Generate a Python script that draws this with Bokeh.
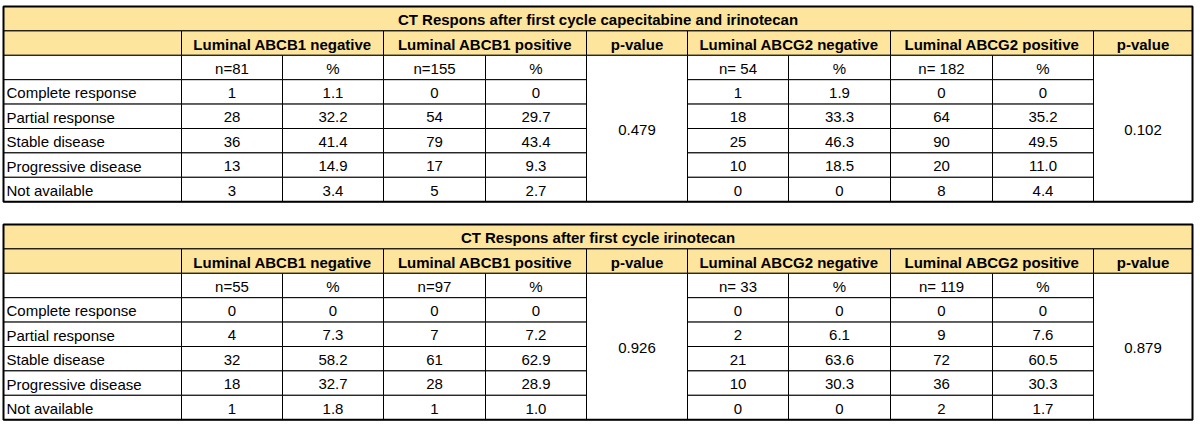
from bokeh.plotting import figure
from bokeh.models import Range1d, ColumnDataSource
from bokeh.core.properties import value
from bokeh.embed import file_html
from bokeh.resources import INLINE

# ---------------- data ----------------
response_labels = ["Complete response", "Partial response", "Stable disease",
                   "Progressive disease", "Not available"]
group_headers = ["Luminal ABCB1 negative", "Luminal ABCB1 positive", "p-value",
                 "Luminal ABCG2 negative", "Luminal ABCG2 positive", "p-value"]

t1_title = "CT Respons after first cycle capecitabine and irinotecan"
t1_n_labels = ["n=81", "n=155", "n= 54", "n= 182"]
t1_b1neg_n = [1, 28, 36, 13, 3]
t1_b1neg_pct = [1.1, 32.2, 41.4, 14.9, 3.4]
t1_b1pos_n = [0, 54, 79, 17, 5]
t1_b1pos_pct = [0, 29.7, 43.4, 9.3, 2.7]
t1_b1_p = "0.479"
t1_g2neg_n = [1, 18, 25, 10, 0]
t1_g2neg_pct = [1.9, 33.3, 46.3, 18.5, 0]
t1_g2pos_n = [0, 64, 90, 20, 8]
t1_g2pos_pct = [0, 35.2, 49.5, 11.0, 4.4]
t1_g2_p = "0.102"

t2_title = "CT Respons after first cycle irinotecan"
t2_n_labels = ["n=55", "n=97", "n= 33", "n= 119"]
t2_b1neg_n = [0, 4, 32, 18, 1]
t2_b1neg_pct = [0, 7.3, 58.2, 32.7, 1.8]
t2_b1pos_n = [0, 7, 61, 28, 1]
t2_b1pos_pct = [0, 7.2, 62.9, 28.9, 1.0]
t2_b1_p = "0.926"
t2_g2neg_n = [0, 2, 21, 10, 0]
t2_g2neg_pct = [0, 6.1, 63.6, 30.3, 0]
t2_g2pos_n = [0, 9, 72, 36, 2]
t2_g2pos_pct = [0, 7.6, 60.5, 30.3, 1.7]
t2_g2_p = "0.879"

# ---------------- layout ----------------
EDGES = [3, 181, 282, 383, 485, 586, 687, 788, 890, 992, 1093, 1192]
ROW_H = 24.4
YELLOW = "#FDE59D"
FONT = value("Liberation Sans")
FSIZE = value("15px")

def fmt_pct(v):
    return "0" if v == 0 else f"{v:.1f}"

cells = dict(left=[], right=[], top=[], bottom=[], fill=[])
norm_txt = dict(x=[], y=[], t=[])
left_txt = dict(x=[], y=[], t=[])
bold_txt = dict(x=[], y=[], t=[])
borders = dict(left=[], right=[], top=[], bottom=[])

def add_cell(x0, x1, y0, y1, fill):
    cells["left"].append(x0); cells["right"].append(x1)
    cells["top"].append(y0); cells["bottom"].append(y1)
    cells["fill"].append(fill)

def add_txt(d, x, y, t):
    d["x"].append(x); d["y"].append(y); d["t"].append(t)

def make_table(top, title, n_labels, counts, pcts, pvals):
    ys = [top + i * ROW_H for i in range(9)]
    E = EDGES
    # title row
    add_cell(E[0], E[-1], ys[0], ys[1], YELLOW)
    add_txt(bold_txt, (E[0] + E[-1]) / 2, (ys[0] + ys[1]) / 2 + 1, title)
    # header row
    add_cell(E[0], E[1], ys[1], ys[2], YELLOW)
    spans = [(1, 3), (3, 5), (5, 6), (6, 8), (8, 10), (10, 11)]
    for (a, b), h in zip(spans, group_headers):
        add_cell(E[a], E[b], ys[1], ys[2], YELLOW)
        add_txt(bold_txt, (E[a] + E[b]) / 2, (ys[1] + ys[2]) / 2 + 1, h)
    # label column
    for r in range(6):
        add_cell(E[0], E[1], ys[2 + r], ys[3 + r], "white")
    for r, lab in enumerate(response_labels):
        add_txt(left_txt, E[0] + 3, (ys[3 + r] + ys[4 + r]) / 2 + 1, lab)
    # data columns
    data_cols = [1, 3, 6, 8]
    for k, c in enumerate(data_cols):
        for r in range(6):
            add_cell(E[c], E[c + 1], ys[2 + r], ys[3 + r], "white")
            add_cell(E[c + 1], E[c + 2], ys[2 + r], ys[3 + r], "white")
        xn = (E[c] + E[c + 1]) / 2
        xp = (E[c + 1] + E[c + 2]) / 2
        add_txt(norm_txt, xn, (ys[2] + ys[3]) / 2 + 1, n_labels[k])
        add_txt(norm_txt, xp, (ys[2] + ys[3]) / 2 + 1, "%")
        for r in range(5):
            yc = (ys[3 + r] + ys[4 + r]) / 2 + 1
            add_txt(norm_txt, xn, yc, str(counts[k][r]))
            add_txt(norm_txt, xp, yc, fmt_pct(pcts[k][r]))
    # p-value merged cells
    for c, pv in zip([5, 10], pvals):
        add_cell(E[c], E[c + 1], ys[2], ys[8], "white")
        add_txt(norm_txt, (E[c] + E[c + 1]) / 2, (ys[2] + ys[8]) / 2 + 1, pv)
    borders["left"].append(E[0]); borders["right"].append(E[-1])
    borders["top"].append(ys[0]); borders["bottom"].append(ys[8])

make_table(6, t1_title, t1_n_labels,
           [t1_b1neg_n, t1_b1pos_n, t1_g2neg_n, t1_g2pos_n],
           [t1_b1neg_pct, t1_b1pos_pct, t1_g2neg_pct, t1_g2pos_pct],
           [t1_b1_p, t1_g2_p])
make_table(224, t2_title, t2_n_labels,
           [t2_b1neg_n, t2_b1pos_n, t2_g2neg_n, t2_g2pos_n],
           [t2_b1neg_pct, t2_b1pos_pct, t2_g2neg_pct, t2_g2pos_pct],
           [t2_b1_p, t2_g2_p])

p = figure(width=1200, height=427, output_backend="svg", toolbar_location=None,
           x_range=Range1d(0, 1200), y_range=Range1d(427, 0),
           min_border=0, background_fill_color="white", border_fill_color="white")
p.axis.visible = False
p.grid.visible = False
p.outline_line_color = None

p.quad(left="left", right="right", top="top", bottom="bottom",
       source=ColumnDataSource(cells), fill_color="fill",
       line_color="black", line_width=1)
p.quad(left="left", right="right", top="top", bottom="bottom",
       source=ColumnDataSource(borders), fill_alpha=0,
       line_color="black", line_width=2)

p.text(x="x", y="y", text="t", source=ColumnDataSource(norm_txt),
       text_font=FONT, text_font_size=FSIZE, text_align="center",
       text_baseline="middle", text_color="black")
p.text(x="x", y="y", text="t", source=ColumnDataSource(left_txt),
       text_font=FONT, text_font_size=FSIZE, text_align="left",
       text_baseline="middle", text_color="black")
p.text(x="x", y="y", text="t", source=ColumnDataSource(bold_txt),
       text_font=FONT, text_font_size=FSIZE, text_font_style="bold",
       text_align="center", text_baseline="middle", text_color="black")

open("out.html", "w").write(file_html(p, INLINE))
